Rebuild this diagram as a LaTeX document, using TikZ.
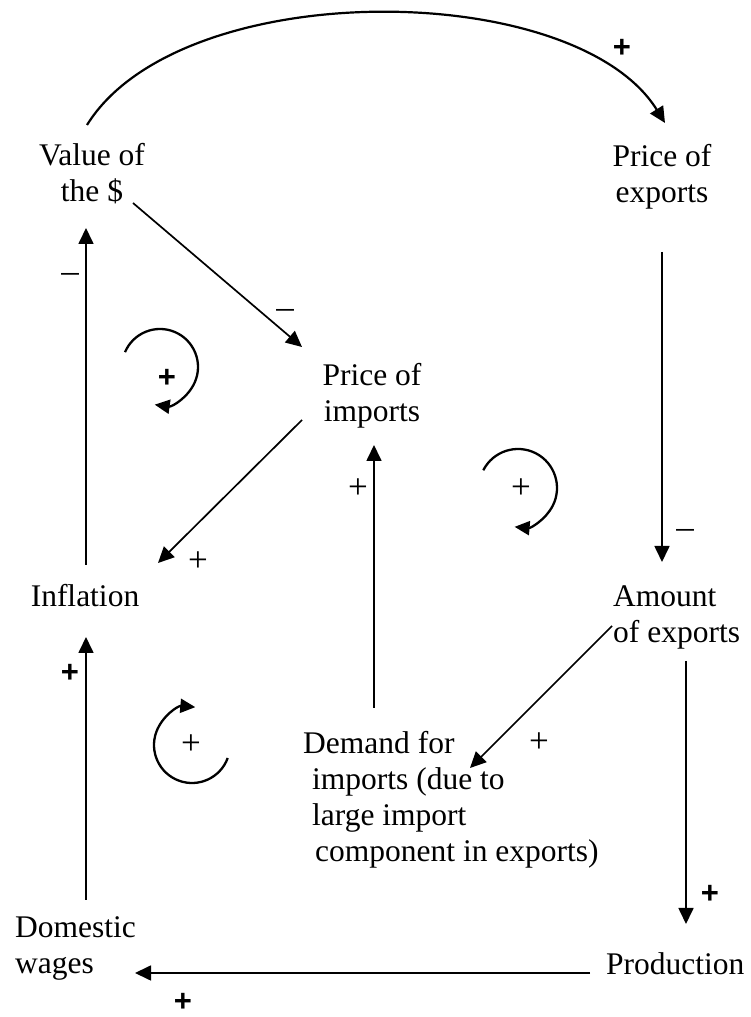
\documentclass[tikz,border=0pt]{standalone}
\usepackage{fontspec}
\setmainfont{Liberation Serif}
\newfontfamily\arialfont{Liberation Sans}
\usetikzlibrary{arrows.meta}
\tikzset{
  factor/.style={inner sep=0pt, font=\fontsize{31.5}{36}\selectfont},
  link/.style={line width=1.7pt, -{Triangle[length=16pt,width=15pt]}},
  loop arc/.style={line width=2.3pt, -{Triangle[length=15pt,width=14pt]}},
  sign/.style={inner sep=0pt, font=\fontsize{35}{36}\selectfont},
  sign sans/.style={inner sep=0pt, font=\arialfont\bfseries\fontsize{31}{32}\selectfont},
}

\begin{document}
\begin{tikzpicture}[x=1pt,y=1pt]
    \useasboundingbox (0,0) rectangle (751,1017);
    % the factors (base = last line)
    \node[factor, anchor=base, align=center] (value) at (92,815) {Value of\\the \$};
    \node[factor, anchor=base, align=center] (pexp) at (662,814) {Price of\\exports};
    \node[factor, anchor=base, align=center] (pimp) at (372,595) {Price of\\imports};
    \node[factor, anchor=base] (infl) at (85,410) {Inflation};
    \node[factor, anchor=base west, align=left] (amount) at (613,374) {Amount\\of exports};
    \node[factor, anchor=base west, align=left] (demand) at (303,155)
        {Demand for\\\hspace*{9pt}imports (due to\\\hspace*{9pt}large import\\\hspace*{12pt}component in exports)};
    \node[factor, anchor=base west, align=left] (wages) at (15,43) {Domestic\\wages};
    \node[factor, anchor=base west] (prod) at (606,42) {Production};

    % the links
    \draw[line width=2.2pt, -{Triangle[length=16pt,width=15pt]}] ([shift={(-5,77)}]value.base)
        .. controls +(93,150) and +(-90,145) .. ([shift={(3,80)}]pexp.base);
    \draw[link] ([shift={(41,-1)}]value.base) -- ([shift={(-70,75)}]pimp.base);
    \draw[link] ([shift={(1,42)}]infl.base) -- ([shift={(-6,-26)}]value.base);
    \draw[link] ([shift={(0,-49)}]pexp.base) -- ([shift={(49,81)}]amount.base west);
    \draw[link] ([shift={(-70,2)}]pimp.base) -- ([shift={(73,44)}]infl.base);
    \draw[link] ([shift={(71,154)}]demand.base west) -- ([shift={(2,-23)}]pimp.base);
    \draw[link] ([shift={(-1,17)}]amount.base west) -- ([shift={(167,94)}]demand.base west);
    \draw[link] ([shift={(73,-18)}]amount.base west) -- ([shift={(80,51)}]prod.base west);
    \draw[link] ([shift={(-16,2)}]prod.base west) -- ([shift={(120,1)}]wages.base west);
    \draw[link] ([shift={(71,74)}]wages.base west) -- ([shift={(1,-30)}]infl.base);

    % the loops
    \draw[loop arc] (160,650) ++(157:38) arc[start angle=157, end angle=-98, radius=38];
    \draw[loop arc] (518,529) ++(153:39) arc[start angle=153, end angle=-95, radius=39];
    \draw[loop arc] (192,272) ++(-20:38) arc[start angle=-20, end angle=-275, radius=38];

    % the signs
    \node[sign sans] (s1) at (622,969) {+};
    \node[sign] (s2) at (285,703) {--};
    \node[sign] (s3) at (70,739) {--};
    \node[sign] (s4) at (685,483) {--};
    \node[sign] (s5) at (198,455) {+};
    \node[sign] (s6) at (358,528) {+};
    \node[sign] (s7) at (539,274) {+};
    \node[sign sans] (s8) at (710,123) {+};
    \node[sign sans] (s9) at (183,15) {+};
    \node[sign sans] (s10) at (70,344) {+};
    \node[sign sans] (s11) at (167,639) {+};
    \node[sign] (s12) at (521,528) {+};
    \node[sign] (s13) at (191,272) {+};
\end{tikzpicture}
\end{document}
